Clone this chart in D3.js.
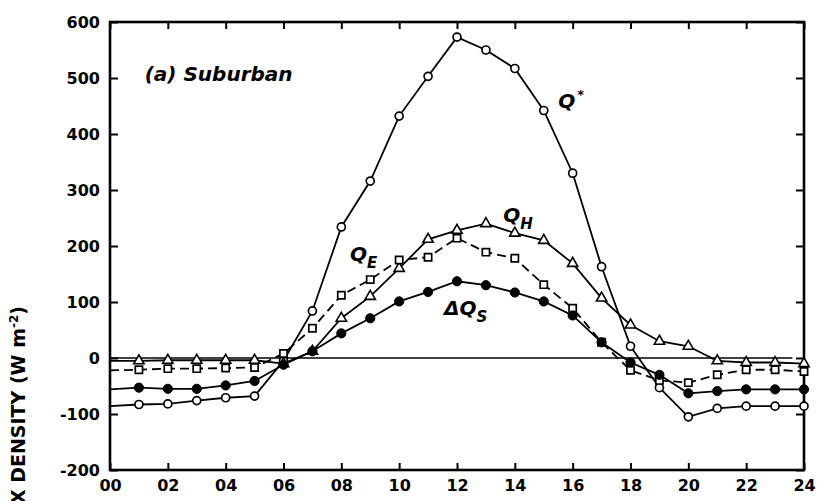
<!DOCTYPE html>
<html><head><meta charset="utf-8">
<script src="https://cdn.jsdelivr.net/npm/d3@7/dist/d3.min.js"></script>
<style>
body{margin:0;background:#fff;}
svg text{font-family:"DejaVu Sans",sans-serif;}
</style>
</head><body>
<svg id="c" width="818" height="501"></svg>
<script>
// ---- data ----
const hours = [0,1,2,3,4,5,6,7,8,9,10,11,12,13,14,15,16,17,18,19,20,21,22,23,24];
const qStar = [-86,-83,-82,-76,-71,-68,-5,84,234,316,432,503,573,550,517,442,330,163,21,-53,-105,-90,-86,-86,-86];
const qH    = [-5,-5,-4,-4,-4,-4,-10,12,71,110,160,212,228,240,223,210,169,107,59,30,21,-5,-8,-8,-10];
const qE    = [-22,-21,-19,-19,-18,-17,8,53,112,140,175,180,214,189,178,131,89,28,-22,-40,-44,-30,-21,-21,-24];
const dQs   = [-56,-53,-55,-55,-49,-41,-12,12,44,71,101,118,137,130,117,101,76,28,-8,-30,-63,-59,-56,-56,-56];
const xTicks = [0,2,4,6,8,10,12,14,16,18,20,22,24];
const xTickLabels = ["00","02","04","06","08","10","12","14","16","18","20","22","24"];
const yTicks = [-200,-100,0,100,200,300,400,500,600];
const yTickLabels = ["-200","-100","0","100","200","300","400","500","600"];

const svg = d3.select("#c");
const x = d3.scaleLinear().domain([0,24]).range([110,804]);
const y = d3.scaleLinear().domain([-200,600]).range([470,22]);

function styleAxis(g){
  g.select(".domain").remove();
  g.selectAll(".tick line").attr("stroke","#000").attr("stroke-width",2);
  g.selectAll("text").attr("font-family","DejaVu Sans, sans-serif")
    .attr("font-weight","bold").attr("font-size",16).attr("fill","#000");
}

// axes
svg.append("g").attr("transform",`translate(${x(0)},0)`)
  .call(d3.axisLeft(y).tickValues(yTicks).tickSize(-8).tickPadding(10)
        .tickFormat((d,i)=>yTickLabels[i]))
  .call(styleAxis);
svg.append("g").attr("transform",`translate(${x(24)},0)`)
  .call(d3.axisRight(y).tickValues(yTicks).tickSize(-8).tickFormat(""))
  .call(styleAxis);
svg.append("g").attr("transform",`translate(0,${y(-200)})`)
  .call(d3.axisBottom(x).tickValues(xTicks).tickSize(-7).tickPadding(10)
        .tickFormat((d,i)=>xTickLabels[i]))
  .call(styleAxis);
svg.append("g").attr("transform",`translate(0,${y(600)})`)
  .call(d3.axisTop(x).tickValues(xTicks).tickSize(-7).tickFormat(""))
  .call(styleAxis);

// frame
svg.append("rect").attr("x",x(0)).attr("y",y(600))
  .attr("width",x(24)-x(0)).attr("height",y(-200)-y(600))
  .attr("fill","none").attr("stroke","#000").attr("stroke-width",2.6);

// zero line
svg.append("line").attr("x1",x(0)).attr("x2",x(23.6))
  .attr("y1",y(0)).attr("y2",y(0)).attr("stroke","#000").attr("stroke-width",1.6);

const line = d3.line().x((d,i)=>x(hours[i])).y(d=>y(d));
function drawLine(vals,dash){
  svg.append("path").datum(vals).attr("d",line).attr("fill","none")
    .attr("stroke","#000").attr("stroke-width",1.8)
    .attr("stroke-dasharray",dash||null);
}
drawLine(qStar);
drawLine(qH);
drawLine(qE,"9,5");
drawLine(dQs);

function pts(vals){ return vals.map((v,i)=>({h:hours[i],v})).filter(d=>d.h>0); }

// markers
svg.append("g").selectAll("circle").data(pts(qStar)).join("circle")
  .attr("cx",d=>x(d.h)).attr("cy",d=>y(d.v)).attr("r",4)
  .attr("fill","#fff").attr("stroke","#000").attr("stroke-width",1.7);
svg.append("g").selectAll("path").data(pts(qH)).join("path")
  .attr("d",d3.symbol(d3.symbolTriangle).size(46))
  .attr("transform",d=>`translate(${x(d.h)},${y(d.v)})`)
  .attr("fill","#fff").attr("stroke","#000").attr("stroke-width",1.6);
svg.append("g").selectAll("path").data(pts(qE)).join("path")
  .attr("d",d3.symbol(d3.symbolSquare).size(52))
  .attr("transform",d=>`translate(${x(d.h)},${y(d.v)})`)
  .attr("fill","#fff").attr("stroke","#000").attr("stroke-width",1.7);
svg.append("g").selectAll("circle").data(pts(dQs)).join("circle")
  .attr("cx",d=>x(d.h)).attr("cy",d=>y(d.v)).attr("r",4.6)
  .attr("fill","#000").attr("stroke","#000").attr("stroke-width",1);

// series labels
function label(hx, vy, main, sub, sup){
  const t = svg.append("text").attr("x",x(hx)).attr("y",y(vy))
    .attr("font-weight","bold").attr("font-style","italic")
    .attr("font-size",20).attr("fill","#000");
  t.append("tspan").text(main);
  if(sub) t.append("tspan").attr("dy",7).attr("font-size",15).text(sub);
  if(sup) t.append("tspan").attr("dy",-9).attr("dx",2).attr("font-size",13).text(sup);
}
label(15.5, 447, "Q", null, "*");
label(13.6, 243, "Q", "H");
label(8.3, 173, "Q", "E");
label(11.55, 77, "ΔQ", "S");

// panel title
svg.append("text").attr("x",x(1.2)).attr("y",y(495))
  .attr("font-weight","bold").attr("font-style","italic").attr("font-size",20)
  .attr("fill","#000").text("(a)  Suburban");

// y axis title (partly cut off at the bottom, as in the original)
const yt = svg.append("text").attr("transform","translate(25,306) rotate(-90)")
  .attr("text-anchor","end").attr("font-weight","bold").attr("font-size",19).attr("fill","#000");
yt.append("tspan").text("FLUX DENSITY (W m");
yt.append("tspan").attr("dy",-7).attr("font-size",12).text("-2");
yt.append("tspan").attr("dy",7).text(")");
</script>
</body></html>
